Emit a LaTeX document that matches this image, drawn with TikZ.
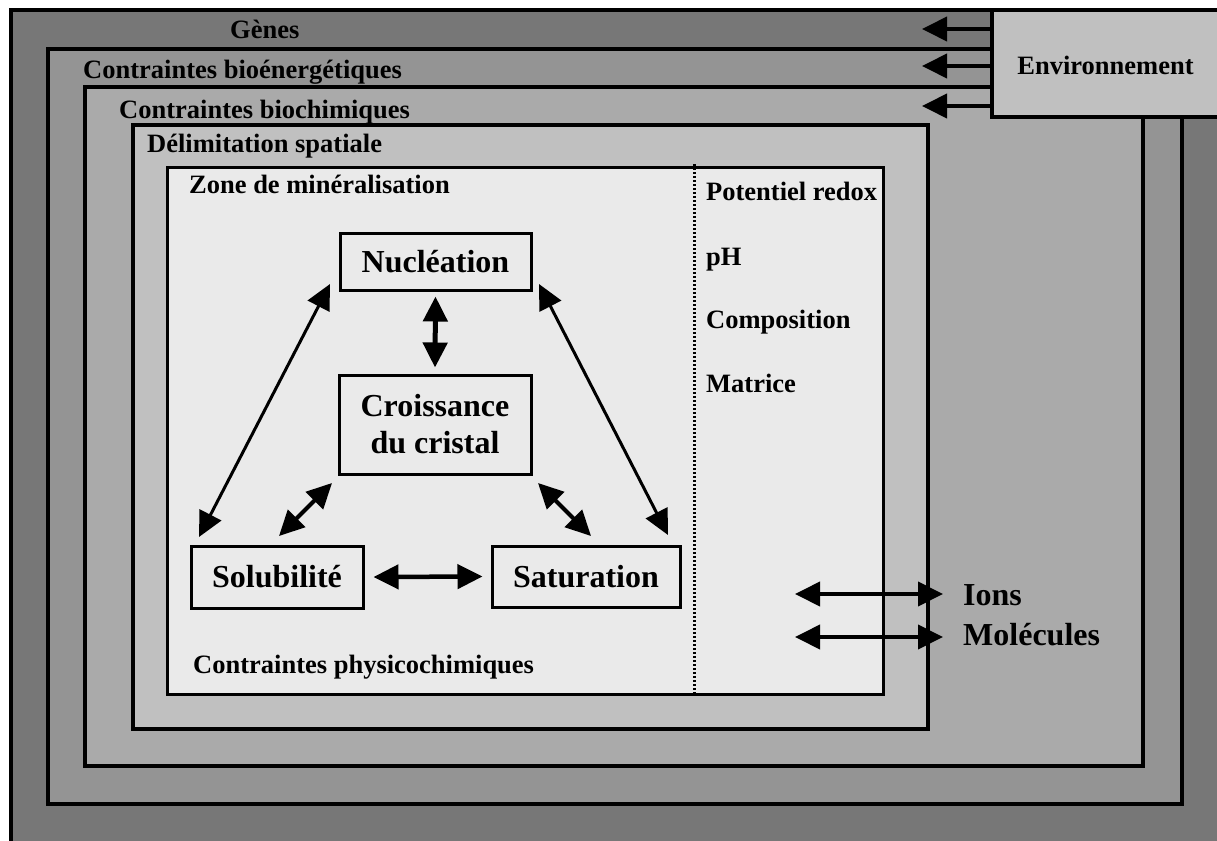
\documentclass[tikz,border=0pt]{standalone}
\usepackage{fontspec}
\setmainfont{Liberation Serif}
\usetikzlibrary{arrows.meta}
\definecolor{gA}{HTML}{777777}
\definecolor{gB}{HTML}{949494}
\definecolor{gC}{HTML}{AAAAAA}
\definecolor{gD}{HTML}{C0C0C0}
\definecolor{gE}{HTML}{EAEAEA}
\begin{document}
\begin{tikzpicture}[x=1pt,y=-1pt,
  lbl/.style={anchor=base west, inner sep=0pt, font=\fontsize{26.5}{30}\selectfont\bfseries},
  biglbl/.style={anchor=base west, inner sep=0pt, font=\fontsize{32}{37}\selectfont\bfseries},
  frame/.style={draw=black, line width=4pt},
  procbox/.style={draw=black, line width=3pt, fill=gE, font=\fontsize{32}{37}\selectfont\bfseries, align=center, inner sep=0pt},
  tipx/.tip={Triangle[length=25pt,width=24pt]},
  dbl/.style={tipx-tipx},
  single/.style={-tipx, line width=4pt}]
\useasboundingbox (0,0) rectangle (1217,840);
\fill[white] (0,0) rectangle (1217,840);
% nested frames
\draw[frame, fill=gA] (10.5,10.5) rectangle (1230,850);
\draw[frame, fill=gB] (48,49) rectangle (1182,804);
\draw[frame, fill=gC] (85,87) rectangle (1143,766);
\draw[frame, fill=gD] (133,125) rectangle (928,729);
\draw[draw=black, line width=3pt, fill=gE] (167,167) rectangle (883,694);
\draw[line width=3pt, dash pattern=on 2pt off 2pt] (694,164) -- (694,694);

% frame labels
\node[lbl] (genes) at (230,39) {Gènes};
\node[lbl] (bioen) at (83,79) {Contraintes bioénergétiques};
\node[lbl] (bioch) at (119,118) {Contraintes biochimiques};
\node[lbl] (delim) at (147,152) {Délimitation spatiale};
\node[lbl] (zone) at (189,193) {Zone de minéralisation};
\node[lbl] (redox) at (706,200) {Potentiel redox};
\node[lbl] (ph) at (706,265) {pH};
\node[lbl] (compo) at (706,328) {Composition};
\node[lbl] (matr) at (706,392) {Matrice};
\node[lbl] (physico) at (193,673) {Contraintes physicochimiques};

% environment
\node[draw=black, line width=4pt, fill=gD, minimum width=227pt, minimum height=107pt,
      inner sep=0pt, text height=23pt, text depth=0pt,
      font=\fontsize{26.5}{30}\selectfont\bfseries] (env) at (1105.5,63.5) {Environnement};
\coordinate (e1) at (922,29);
\coordinate (e2) at (922,66);
\coordinate (e3) at (922,106);
\draw[single] (env.west |- e1) -- (e1);
\draw[single] (env.west |- e2) -- (e2);
\draw[single] (env.west |- e3) -- (e3);

% process boxes
\node[procbox, minimum width=191pt, minimum height=57pt] (nuc) at (435.5,261.5) {Nucléation};
\node[procbox, minimum width=192pt, minimum height=99pt] (cro) at (435,424.5) {Croissance\\du cristal};
\node[procbox, minimum width=172pt, minimum height=62pt] (sol) at (277,577) {Solubilité};
\node[procbox, minimum width=188pt, minimum height=61pt] (sat) at (586,576.5) {Saturation};

% connectors
\coordinate (nl) at (330,284);
\coordinate (sl) at (199,537);
\coordinate (nr) at (539,284);
\coordinate (sr) at (668,535);
\draw[dbl, line width=3pt] (nl) -- (sl);
\draw[dbl, line width=3pt] (nr) -- (sr);
\draw[dbl, line width=5pt] ([yshift=-5pt]nuc.south) -- ([yshift=6pt]cro.north);
\coordinate (cl) at (332,483);
\coordinate (sol1) at (279,536);
\coordinate (cr) at (538,483);
\coordinate (sat1) at (591,536);
\draw[dbl, line width=4pt] (cl) -- (sol1);
\draw[dbl, line width=4pt] (cr) -- (sat1);
\draw[dbl, line width=4.5pt] ([xshift=9pt]sol.east) -- ([xshift=-8pt]sat.west);

% ions / molecules
\node[biglbl] (ions) at (963,605) {Ions};
\node[biglbl] (mol) at (963,645) {Molécules};
\coordinate (i0) at (795,594);
\coordinate (i1) at (943,594);
\coordinate (m0) at (795,637);
\coordinate (m1) at (943,637);
\draw[dbl, line width=4pt] (i0) -- (i1);
\draw[dbl, line width=4pt] (m0) -- (m1);
\end{tikzpicture}
\end{document}
